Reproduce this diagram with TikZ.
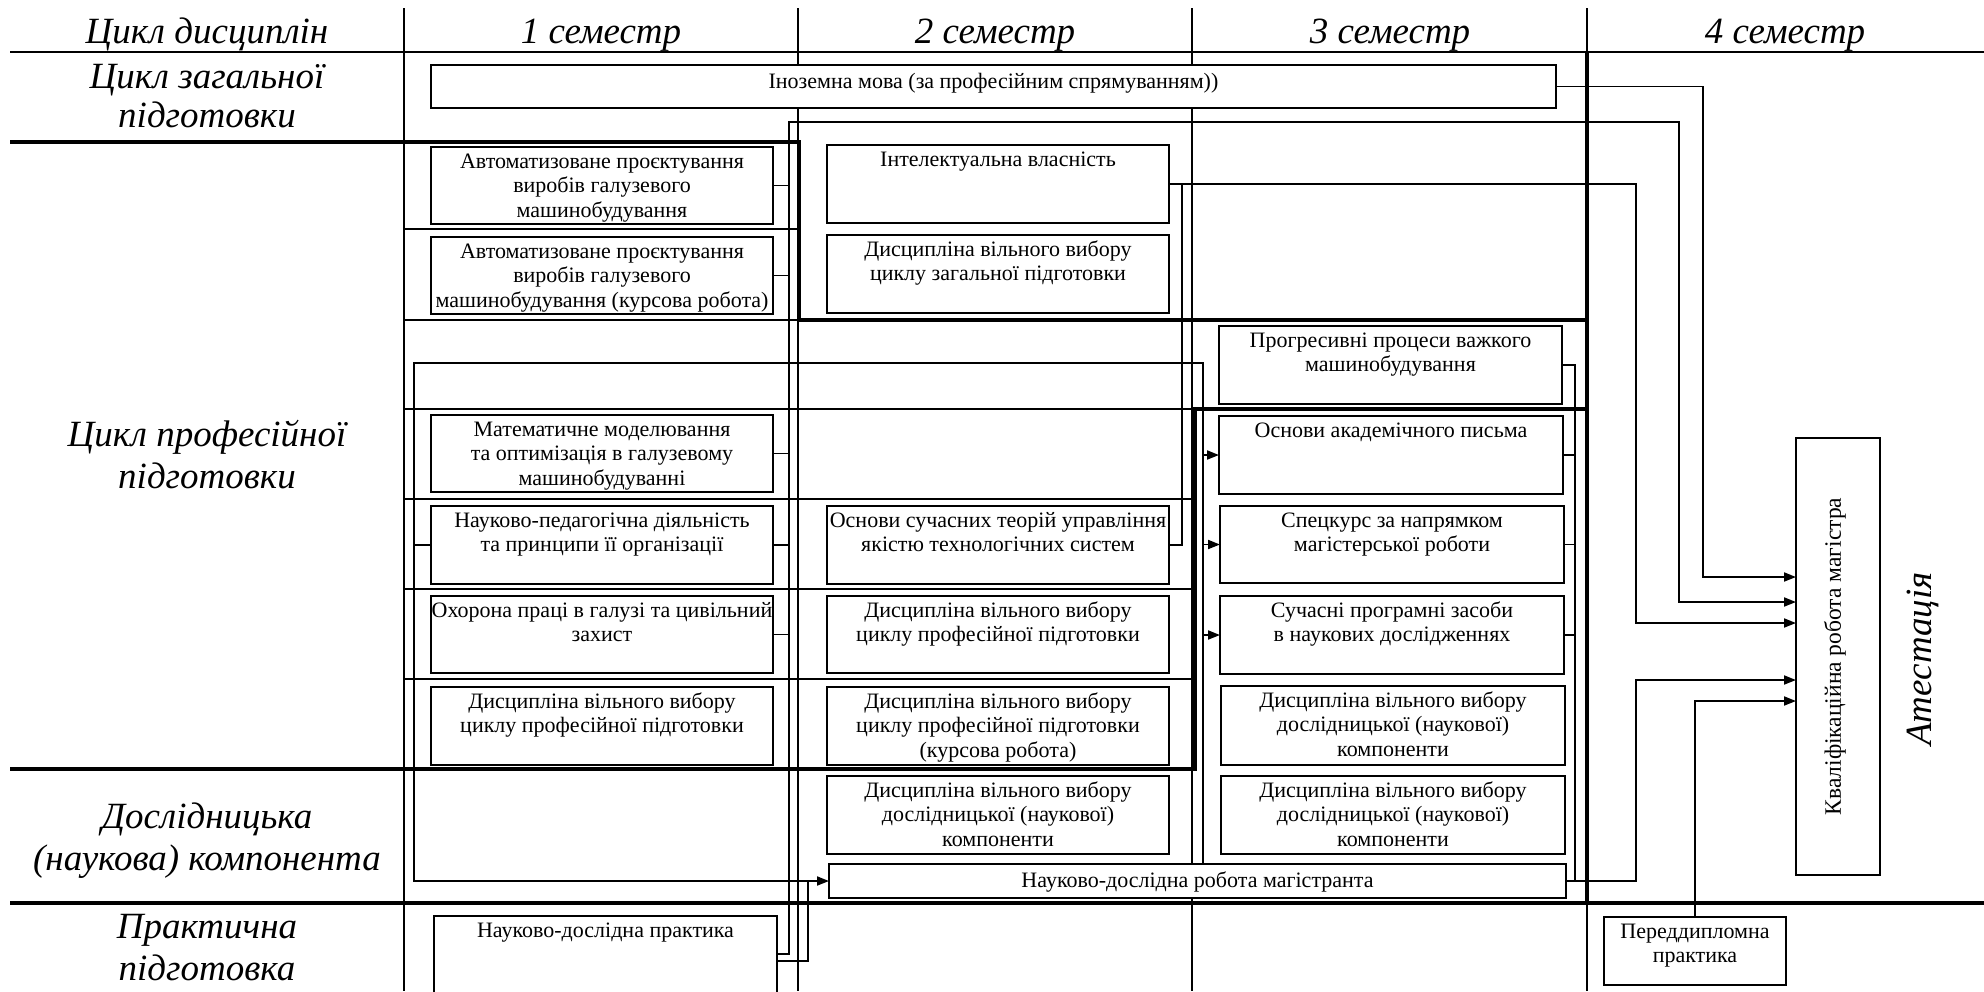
\documentclass[tikz,border=0pt]{standalone}
\usepackage{fontspec}
\usepackage{graphicx}
\setmainfont{Liberation Serif}
\usetikzlibrary{arrows.meta}
\newcommand\boxfont{\fontsize{22}{24.5}\selectfont\lineskiplimit=-20pt\relax}
\newcommand\hdrfont{\fontsize{37}{41}\selectfont\itshape}
\tikzset{
  gridline/.style={line width=1.8pt},
  bigline/.style={line width=4.5pt},
  headline/.style={line width=2.5pt},
  conn/.style={line width=1.8pt},
  arr/.style={conn,-{Triangle[length=12pt,width=9pt]}},
  bx/.style={draw,line width=2pt,fill=white,inner sep=0pt,outer sep=0pt,font=\boxfont},
  hdr/.style={font=\hdrfont,anchor=base,inner sep=0pt},
}
\newcommand\bx[7][21]{%
  \pgfmathsetmacro\bxw{#5-#3}%
  \pgfmathsetmacro\bxh{#6-#4}%
  \pgfmathsetmacro\bxcx{(#3+#5)/2}%
  \pgfmathsetmacro\bxcy{(#4+#6)/2}%
  \node[bx] (#2) at (\bxcx,\bxcy) {\parbox[c][\bxh pt][t]{\bxw pt}{\centering\rule{0pt}{#1pt}#7\par}};%
}
\begin{document}
\begin{tikzpicture}[x=1pt,y=-1pt]
\useasboundingbox (0,0) rectangle (1984,991);
% ---------- grid ----------
\draw[headline] (10,52) -- (1984,52);
\foreach \x in {404,798,1192,1587} \draw[gridline] (\x,8) -- (\x,991);
\draw[bigline] (1587,52) -- (1587,903);
\draw[bigline] (10,142) -- (799,142) -- (799,320) -- (1587,320);
\draw[bigline] (10,769) -- (1195,769) -- (1195,409) -- (1587,409);
\draw[bigline] (10,903) -- (1984,903);
\draw[gridline] (404,229) -- (798,229);
\draw[gridline] (404,320) -- (798,320);
\draw[gridline] (404,409) -- (1192,409);
\foreach \y in {499,589,679} \draw[gridline] (404,\y) -- (1193,\y);
% ---------- headers ----------
\node[hdr] (h0) at (207,43) {Цикл дисциплін};
\node[hdr] (h1) at (601,43) {1 семестр};
\node[hdr] (h2) at (995,43) {2 семестр};
\node[hdr] (h3) at (1390,43) {3 семестр};
\node[hdr] (h4) at (1785,43) {4 семестр};
\node[hdr] (g1) at (207,88) {Цикл загальної};
\node[hdr] (g2) at (207,127) {підготовки};
\node[hdr] (p1) at (207,446) {Цикл професійної};
\node[hdr] (p2) at (207,488) {підготовки};
\node[hdr] (d1) at (207,828) {Дослідницька};
\node[hdr] (d2) at (207,870) {(наукова) компонента};
\node[hdr] (pr1) at (207,938) {Практична};
\node[hdr] (pr2) at (207,980) {підготовка};
\node[hdr,rotate=90,anchor=center] (att) at (1923,659) {Атестація};
% ---------- boxes ----------
\bx[23]{ino}{431}{65}{1556}{108}{Іноземна мова (за професійним спрямуванням))}
\bx{a1}{431}{147}{773}{224}{Автоматизоване проєктування\\виробів галузевого\\машинобудування}
\bx{a2}{431}{237}{773}{314}{Автоматизоване проєктування\\виробів галузевого\\машинобудування (курсова робота)}
\bx{mat}{431}{415}{773}{492}{Математичне моделювання\\та оптимізація в галузевому\\машинобудуванні}
\bx{np}{431}{506}{773}{584}{Науково-педагогічна діяльність\\та принципи її організації}
\bx{oh}{431}{596}{773}{673}{Охорона праці в галузі та цивільний\\захист}
\bx{dv1}{431}{687}{773}{765}{Дисципліна вільного вибору\\циклу професійної підготовки}
\bx{ndp}{434}{916}{777}{1000}{Науково-дослідна практика}
\bx{intel}{827}{145}{1169}{223}{Інтелектуальна власність}
\bx{dvz}{827}{235}{1169}{313}{Дисципліна вільного вибору\\циклу загальної підготовки}
\bx{osn}{827}{506}{1169}{584}{Основи сучасних теорій управління\\якістю технологічних систем}
\bx{dvp}{827}{596}{1169}{673}{Дисципліна вільного вибору\\циклу професійної підготовки}
\bx{dvk}{827}{687}{1169}{765}{Дисципліна вільного вибору\\циклу професійної підготовки\\(курсова робота)}
\bx{dd2}{827}{776}{1169}{854}{Дисципліна вільного вибору\\дослідницької (наукової)\\компоненти}
\bx[23]{ndr}{829}{864}{1566}{898}{Науково-дослідна робота магістранта}
\bx{prog}{1219}{326}{1562}{404}{Прогресивні процеси важкого\\машинобудування}
\bx{akad}{1219}{416}{1563}{494}{Основи академічного письма}
\bx{spec}{1220}{506}{1564}{583}{Спецкурс за напрямком\\магістерської роботи}
\bx{such}{1220}{596}{1564}{674}{Сучасні програмні засоби\\в наукових дослідженнях}
\bx{dd3a}{1221}{686}{1565}{765}{Дисципліна вільного вибору\\дослідницької (наукової)\\компоненти}
\bx{dd3b}{1221}{776}{1565}{854}{Дисципліна вільного вибору\\дослідницької (наукової)\\компоненти}
\bx{pd}{1604}{917}{1786}{985}{Переддипломна\\практика}
\node[bx] (kv) at (1838,656.5) {\rotatebox{90}{\parbox[c][84pt][c]{437pt}{\centering\fontsize{23.5}{26}\selectfont Кваліфікаційна робота магістра\par\vspace*{6pt}}}};
% ---------- connectors ----------
\coordinate (j1) at (1703,577);
\draw[arr] (ino.east) -| (j1) -- (j1 -| kv.west);
\coordinate (v2a) at (789,954);
\coordinate (v2b) at (789,122);
\coordinate (v2c) at (1679,602);
\draw[arr] (v2a -| ndp.east) -- (v2a) -- (v2b) -| (v2c) -- (v2c -| kv.west);
\foreach \n in {a1,a2,mat,np,oh} \draw[conn] (\n.east) -- (\n.east -| v2a);
\coordinate (v3) at (1636,623);
\draw[arr] (intel.east) -| (v3) -- (v3 -| kv.west);
\coordinate (v3b) at (1182,0);
\draw[conn] (osn.east) -| (v3b |- intel.east);
\coordinate (l1) at (414,363);
\coordinate (r1) at (1203,363);
\draw[conn] (np.west) -- (np.west -| l1);
\draw[arr] (r1 |- ndr.north) -- (r1) -- (l1) |- (ndr.west);
\foreach \n in {akad,spec,such} \draw[arr] (r1 |- \n.west) -- (\n.west);
\coordinate (v4) at (808,961);
\draw[conn] (v4 -| ndp.east) -| (v4 |- ndr.west);
\coordinate (r2) at (1575,0);
\draw[conn] (prog.east) -| (r2 |- ndr.east);
\foreach \n in {akad,spec,such} \draw[conn] (\n.east) -- (\n.east -| r2);
\coordinate (v5) at (1636,680);
\draw[arr] (ndr.east) -| (v5) -- (v5 -| kv.west);
\coordinate (v6) at (1695,701);
\draw[arr] (pd.north) -- (v6) -- (v6 -| kv.west);
\end{tikzpicture}
\end{document}
